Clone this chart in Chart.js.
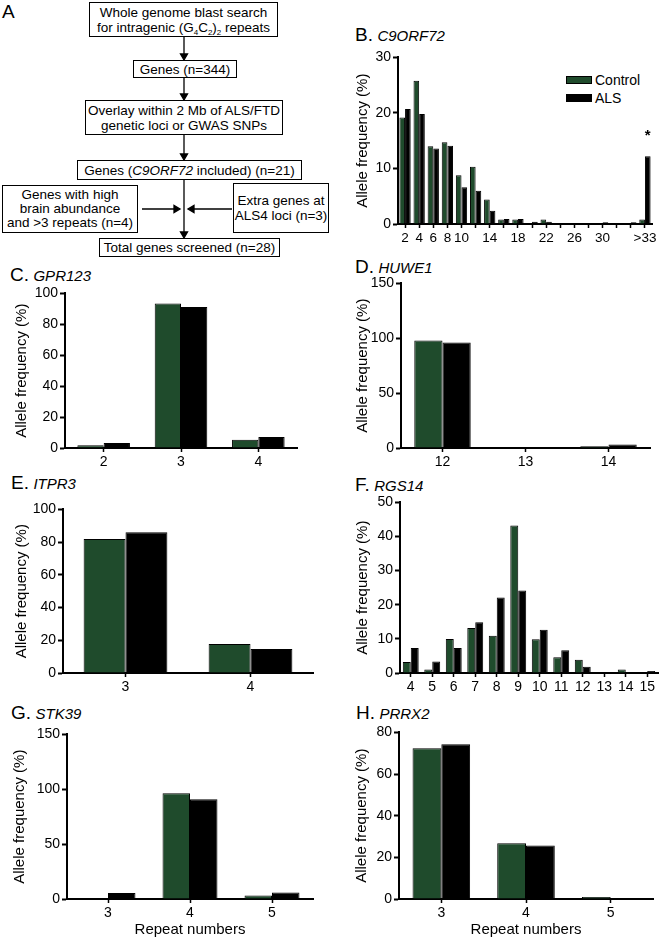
<!DOCTYPE html>
<html>
<head>
<meta charset="utf-8">
<script src="https://cdn.jsdelivr.net/npm/chart.js@4.4.0/dist/chart.umd.min.js"></script>
<style>
  body { margin: 0; background: #fff; font-family: "Liberation Sans", Arial, sans-serif; color: #000; }
  #fig { position: relative; width: 660px; height: 940px; overflow: hidden; }
  .box { position: absolute; border: 1px solid #000; box-sizing: border-box; display: flex; align-items: center; justify-content: center; text-align: center; font-size: 13.5px; line-height: 15px; background: #fff; }
  .box sub { font-size: 8px; line-height: 0; vertical-align: -3px; }
  .ttl { position: absolute; white-space: nowrap; line-height: 20px; }
  .ttl b { font-weight: normal; font-size: 19px; }
  .ttl i { font-size: 15px; }
  .lg { position: absolute; font-size: 14px; line-height: 16px; white-space: nowrap; }
  .sw { position: absolute; width: 26px; height: 8px; border: 1px solid #000; box-sizing: border-box; }
  canvas { position: absolute; }
</style>
</head>
<body>
<div id="fig">
  <!-- A. flowchart -->
  <div class="ttl" style="left:2px;top:2px;"><b>A</b></div>
  <svg width="340" height="260" style="position:absolute;left:0;top:0">
    <g stroke="#000" stroke-width="1.3" fill="#000">
      <line x1="184" y1="37" x2="184" y2="55"/><polygon points="180.5,54 187.5,54 184,60"/>
      <line x1="184" y1="78" x2="184" y2="95"/><polygon points="180.5,94 187.5,94 184,100"/>
      <line x1="184" y1="135" x2="184" y2="155"/><polygon points="180.5,154 187.5,154 184,160"/>
      <line x1="184" y1="180" x2="184" y2="233"/><polygon points="180.5,232 187.5,232 184,238"/>
      <line x1="142" y1="209" x2="175" y2="209"/><polygon points="174,205.5 174,212.5 180,209"/>
      <line x1="232" y1="209" x2="193" y2="209"/><polygon points="194,205.5 194,212.5 188,209"/>
    </g>
  </svg>
  <div class="box" style="left:89px;top:2px;width:189px;height:35px;"><span>Whole genome blast search<br>for intragenic (G<sub>4</sub>C<sub>2</sub>)<sub>2</sub> repeats</span></div>
  <div class="box" style="left:133px;top:60px;width:104px;height:18px;"><span>Genes (n=344)</span></div>
  <div class="box" style="left:85px;top:100px;width:198px;height:35px;"><span>Overlay within 2 Mb of ALS/FTD<br>genetic loci or GWAS SNPs</span></div>
  <div class="box" style="left:77px;top:160px;width:225px;height:20px;"><span>Genes (<i>C9ORF72</i> included) (n=21)</span></div>
  <div class="box" style="left:2px;top:185px;width:136px;height:48px;line-height:14px;"><span>Genes with high<br>brain abundance<br>and &gt;3 repeats (n=4)</span></div>
  <div class="box" style="left:233px;top:183px;width:96px;height:50px;"><span>Extra genes at<br>ALS4 loci (n=3)</span></div>
  <div class="box" style="left:99px;top:238px;width:181px;height:19px;"><span>Total genes screened (n=28)</span></div>

  <!-- panel titles -->
  <div class="ttl" style="left:355px;top:25px;"><b>B.</b> <i>C9ORF72</i></div>
  <div class="ttl" style="left:10px;top:265px;"><b>C.</b> <i>GPR123</i></div>
  <div class="ttl" style="left:355px;top:257px;"><b>D.</b> <i>HUWE1</i></div>
  <div class="ttl" style="left:11px;top:473px;"><b>E.</b> <i>ITPR3</i></div>
  <div class="ttl" style="left:355px;top:475px;"><b>F.</b> <i>RGS14</i></div>
  <div class="ttl" style="left:11px;top:703px;"><b>G.</b> <i>STK39</i></div>
  <div class="ttl" style="left:356px;top:703px;"><b>H.</b> <i>PRRX2</i></div>

  <!-- legend of B -->
  <div class="sw" style="left:566px;top:76px;background:#1f4b2c;"></div>
  <div class="lg" style="left:595px;top:72px;">Control</div>
  <div class="sw" style="left:566px;top:94px;background:#000;"></div>
  <div class="lg" style="left:595px;top:90px;">ALS</div>

  <canvas id="chartB"></canvas>
  <canvas id="chartC"></canvas>
  <canvas id="chartD"></canvas>
  <canvas id="chartE"></canvas>
  <canvas id="chartF"></canvas>
  <canvas id="chartG"></canvas>
  <canvas id="chartH"></canvas>
</div>

<script>
// B. C9ORF72 (2개 단위 구간)
const c9Categories = ['2','4','6','8','10','12','14','16','18','20','22','24','26','28','30','32','34','>33'];
const c9TickLabels = ['2','4','6','8','10','','14','','18','','22','','26','','30','','','>33'];
const c9Control = [19.2, 25.8, 14.0, 14.7, 8.8, 10.3, 4.4, 0.8, 0.8, 0, 0.8, 0, 0, 0, 0, 0, 0, 0.8];
const c9Als     = [20.7, 19.8, 13.6, 14.1, 6.6, 6.0, 2.4, 0.9, 0.9, 0.4, 0.4, 0, 0, 0, 0.3, 0, 0.3, 12.2];
const c9Starred = '>33';

// C. GPR123
const gprCategories = ['2','3','4'];
const gprControl = [1.7, 93.5, 5.4];
const gprAls     = [3.2, 91.2, 7.1];

// D. HUWE1
const huweCategories = ['12','13','14'];
const huweControl = [97.9, 0, 1.5];
const huweAls     = [96.1, 0, 3.3];

// E. ITPR3
const itprCategories = ['3','4'];
const itprControl = [81.9, 17.8];
const itprAls     = [86.0, 14.6];

// F. RGS14
const rgsCategories = ['4','5','6','7','8','9','10','11','12','13','14','15'];
const rgsControl = [3.2, 1.0, 10.0, 13.2, 10.9, 43.2, 9.9, 4.6, 3.9, 0, 1.0, 0];
const rgsAls     = [7.3, 3.4, 7.3, 14.9, 22.1, 24.2, 12.7, 6.7, 1.8, 0, 0, 0.6];

// G. STK39
const stkCategories = ['3','4','5'];
const stkControl = [0, 96.4, 3.3];
const stkAls     = [5.5, 90.9, 6.0];

// H. PRRX2
const prrxCategories = ['3','4','5'];
const prrxControl = [72.4, 26.8, 1.0];
const prrxAls     = [74.3, 25.7, 0.5];

const GREEN = '#1f4b2c';
Chart.defaults.font.family = '"Liberation Sans", Arial, sans-serif';
Chart.defaults.color = '#000';

// 별표 표시 플러그인
const starPlugin = {
    id: 'star',
    afterDatasetsDraw(chart) {
        const idx = chart.data.labels.indexOf(c9Starred);
        const bar = chart.getDatasetMeta(1).data[idx];
        if (!bar) return;
        const ctx = chart.ctx;
        ctx.save();
        ctx.font = 'bold 15px "Liberation Sans", Arial, sans-serif';
        ctx.fillStyle = '#000';
        ctx.textAlign = 'center';
        ctx.textBaseline = 'middle';
        ctx.fillText('*', bar.x, bar.y - 20);
        ctx.restore();
    }
};

function makePanel(id, o) {
    const padTop = 10, padRight = 8;
    const cv = document.getElementById(id);
    const x = o.l - o.yw, y = o.t - padTop;
    const w = o.r - x + padRight, h = o.b + o.xh - y;
    cv.width = w; cv.height = h;
    cv.style.left = x + 'px'; cv.style.top = y + 'px';
    cv.style.width = w + 'px'; cv.style.height = h + 'px';
    const tickLabels = o.tickLabels || o.labels;

    return new Chart(cv, {
        type: 'bar',
        data: {
            labels: o.labels,
            datasets: [
                { label: 'Control', data: o.control, backgroundColor: GREEN, borderColor: '#000', borderWidth: 1 },
                { label: 'ALS', data: o.als, backgroundColor: '#000', borderColor: '#000', borderWidth: 1 }
            ]
        },
        options: {
            responsive: false,
            animation: false,
            layout: { padding: { top: padTop, right: padRight, left: 0, bottom: 0 } },
            plugins: { legend: { display: false }, tooltip: { enabled: false } },
            datasets: { bar: { categoryPercentage: o.cp, barPercentage: 1 } },
            scales: {
                x: {
                    grid: { drawOnChartArea: false, offset: false, tickLength: 4, tickWidth: 1.5, tickColor: '#000' },
                    border: { color: '#000', width: 2 },
                    ticks: {
                        font: { size: o.xFont || 14 }, color: '#000', padding: 2,
                        maxRotation: 0, autoSkip: false,
                        callback: (v, i) => tickLabels[i]
                    },
                    title: { display: !!o.xTitle, text: o.xTitle || '', font: { size: 15 }, color: '#000', padding: { top: 0, bottom: 0 } },
                    afterFit: s => { s.height = o.xh; }
                },
                y: {
                    min: 0, max: o.max,
                    ticks: { stepSize: o.step, font: { size: 14 }, color: '#000', padding: 2 },
                    grid: { drawOnChartArea: false, tickLength: 5, tickWidth: 2, tickColor: '#000' },
                    border: { color: '#000', width: 2 },
                    title: { display: true, text: 'Allele frequency (%)', font: { size: 15 }, color: '#000', padding: { top: 0, bottom: 0 } },
                    afterFit: s => { s.width = o.yw; }
                }
            }
        },
        plugins: o.plugins || []
    });
}

try {
    makePanel('chartB', { l: 398, t: 57, r: 652, b: 224, yw: 44, xh: 22, max: 30, step: 10, cp: 0.8,
        labels: c9Categories, tickLabels: c9TickLabels, control: c9Control, als: c9Als, xFont: 13.5, plugins: [starPlugin] });
    makePanel('chartC', { l: 65, t: 293, r: 297, b: 448, yw: 52, xh: 22, max: 100, step: 20, cp: 0.68,
        labels: gprCategories, control: gprControl, als: gprAls });
    makePanel('chartD', { l: 401, t: 283, r: 650, b: 448, yw: 47, xh: 22, max: 150, step: 50, cp: 0.68,
        labels: huweCategories, control: huweControl, als: huweAls });
    makePanel('chartE', { l: 63, t: 509, r: 313, b: 673, yw: 50, xh: 22, max: 100, step: 20, cp: 0.67,
        labels: itprCategories, control: itprControl, als: itprAls });
    makePanel('chartF', { l: 400, t: 502, r: 658, b: 673, yw: 46, xh: 22, max: 50, step: 10, cp: 0.74,
        labels: rgsCategories, control: rgsControl, als: rgsAls });
    makePanel('chartG', { l: 67, t: 734, r: 313, b: 899, yw: 56, xh: 40, max: 150, step: 50, cp: 0.67,
        labels: stkCategories, control: stkControl, als: stkAls, xTitle: 'Repeat numbers' });
    makePanel('chartH', { l: 399, t: 732, r: 653, b: 899, yw: 46, xh: 40, max: 80, step: 20, cp: 0.68,
        labels: prrxCategories, control: prrxControl, als: prrxAls, xTitle: 'Repeat numbers' });
} catch (error) {
    console.error('Error drawing charts:', error);
}
</script>
</body>
</html>
